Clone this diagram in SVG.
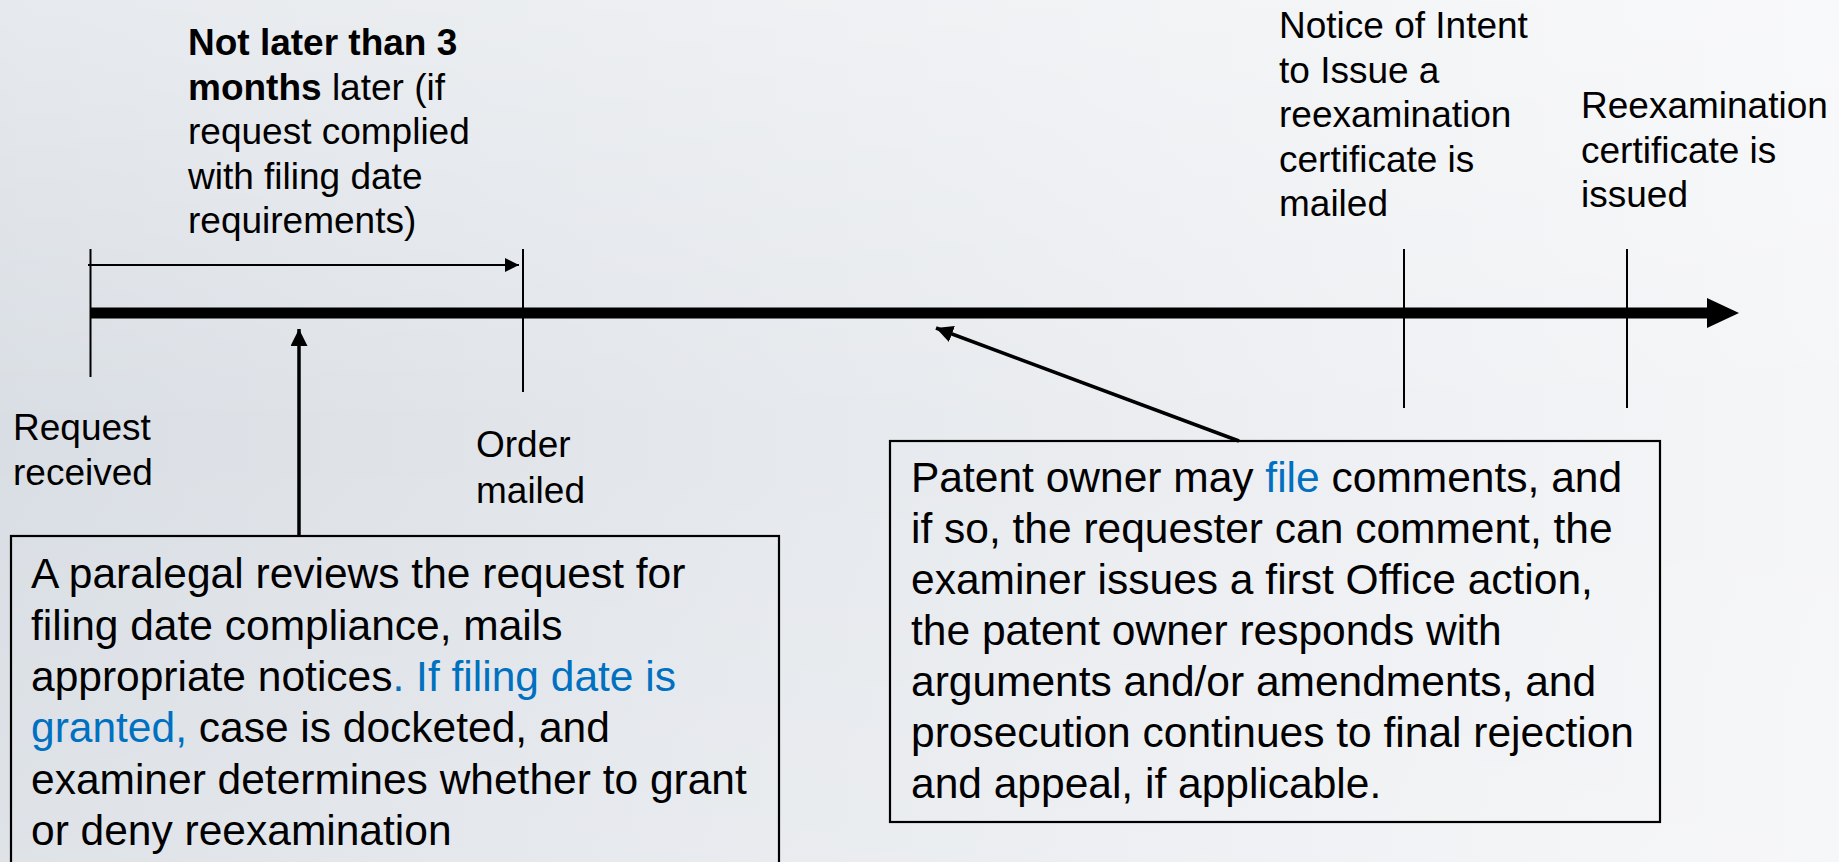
<svg xmlns="http://www.w3.org/2000/svg" width="1839" height="862" viewBox="0 0 1839 862">
  <style>
    text { font-family: "Liberation Sans", Arial, sans-serif; fill: #000; }
    .lbl { font-size: 37px; }
    .body { font-size: 42.5px; }
    .b { font-weight: bold; }
    .blue { fill: #0070C0; }
    .tick { stroke: #000; stroke-width: 2; fill: none; }
    .box { stroke: #000; stroke-width: 2.2; fill: none; }
    .thin { stroke: #000; stroke-width: 2; fill: none; }
    .thick { stroke: #000; stroke-width: 3.5; fill: none; }
  </style>
  <defs>
    <linearGradient id="bg" x1="0" y1="0" x2="1" y2="0">
      <stop offset="0" stop-color="#d9dee4"/>
      <stop offset="0.45" stop-color="#e6e9ed"/>
      <stop offset="1" stop-color="#f5f6f8"/>
    </linearGradient>
    <linearGradient id="bgv" x1="0" y1="0" x2="0" y2="1">
      <stop offset="0" stop-color="#ffffff" stop-opacity="0.35"/>
      <stop offset="0.5" stop-color="#ffffff" stop-opacity="0"/>
      <stop offset="1" stop-color="#ffffff" stop-opacity="0.15"/>
    </linearGradient>
    <marker id="headSmall" markerUnits="userSpaceOnUse" markerWidth="14" markerHeight="14" refX="14" refY="7" orient="auto">
      <path d="M0,0 L14,7 L0,14 Z" fill="#000"/>
    </marker>
    <marker id="head" markerUnits="userSpaceOnUse" markerWidth="18" markerHeight="17" refX="17" refY="8.5" orient="auto">
      <path d="M0,0 L17,8.5 L0,17 Z" fill="#000"/>
    </marker>
  </defs>

  <rect x="0" y="0" width="1839" height="862" fill="url(#bg)"/>
  <rect x="0" y="0" width="1839" height="862" fill="url(#bgv)"/>

  <g id="connectors">
    <line id="timeline" x1="90" y1="313" x2="1710" y2="313" stroke="#000" stroke-width="11"/>
    <polygon points="1707,298 1739,313 1707,328" fill="#000"/>
    <line id="span-arrow" class="thin" x1="88" y1="265" x2="519" y2="265" marker-end="url(#headSmall)"/>
    <line id="review-arrow" class="thick" x1="299" y1="536" x2="299" y2="329" marker-end="url(#head)"/>
    <line id="prosecution-arrow" class="thick" x1="1239" y1="441" x2="936" y2="328" marker-end="url(#head)"/>
  </g>

  <g id="tick-request"><line class="tick" x1="90.5" y1="249" x2="90.5" y2="377"/></g>
  <g id="tick-order"><line class="tick" x1="523" y1="249" x2="523" y2="392"/></g>
  <g id="tick-notice"><line class="tick" x1="1404" y1="249" x2="1404" y2="408"/></g>
  <g id="tick-certificate"><line class="tick" x1="1627" y1="249" x2="1627" y2="408"/></g>

  <g id="label-period">
    <text class="lbl" x="188" y="55"><tspan class="b">Not later than 3</tspan></text>
    <text class="lbl" x="188" y="99.5"><tspan class="b">months</tspan> later (if</text>
    <text class="lbl" x="188" y="144">request complied</text>
    <text class="lbl" x="188" y="188.5">with filing date</text>
    <text class="lbl" x="188" y="233">requirements)</text>
  </g>

  <g id="label-request">
    <text class="lbl" x="13" y="440">Request</text>
    <text class="lbl" x="13" y="485">received</text>
  </g>

  <g id="label-order">
    <text class="lbl" x="476" y="457">Order</text>
    <text class="lbl" x="476" y="503">mailed</text>
  </g>

  <g id="label-notice">
    <text class="lbl" x="1279" y="38">Notice of Intent</text>
    <text class="lbl" x="1279" y="82.5">to Issue a</text>
    <text class="lbl" x="1279" y="127">reexamination</text>
    <text class="lbl" x="1279" y="171.5">certificate is</text>
    <text class="lbl" x="1279" y="216">mailed</text>
  </g>

  <g id="label-certificate">
    <text class="lbl" x="1581" y="118">Reexamination</text>
    <text class="lbl" x="1581" y="162.5">certificate is</text>
    <text class="lbl" x="1581" y="207">issued</text>
  </g>

  <g id="box-review">
    <rect class="box" x="11" y="536" width="768" height="340"/>
    <text class="body" x="31" y="588">A paralegal reviews the request for</text>
    <text class="body" x="31" y="639.5">filing date compliance, mails</text>
    <text class="body" x="31" y="691">appropriate notices<tspan class="blue">. If filing date is</tspan></text>
    <text class="body" x="31" y="742"><tspan class="blue">granted,</tspan> case is docketed, and</text>
    <text class="body" x="31" y="793.5">examiner determines whether to grant</text>
    <text class="body" x="31" y="845">or deny reexamination</text>
  </g>

  <g id="box-prosecution">
    <rect class="box" x="890" y="441" width="770" height="381"/>
    <text class="body" x="911" y="492">Patent owner may <tspan class="blue">file</tspan> comments, and</text>
    <text class="body" x="911" y="543">if so, the requester can comment, the</text>
    <text class="body" x="911" y="594">examiner issues a first Office action,</text>
    <text class="body" x="911" y="645">the patent owner responds with</text>
    <text class="body" x="911" y="696">arguments and/or amendments, and</text>
    <text class="body" x="911" y="747">prosecution continues to final rejection</text>
    <text class="body" x="911" y="798">and appeal, if applicable.</text>
  </g>
</svg>
